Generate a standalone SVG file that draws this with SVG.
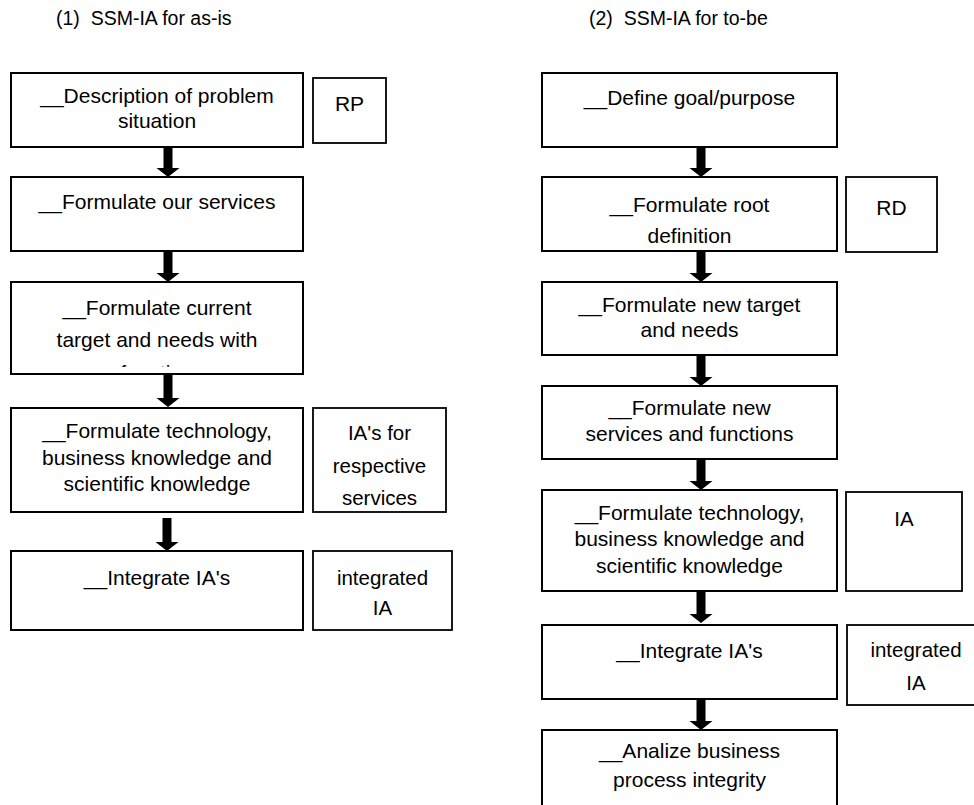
<svg xmlns="http://www.w3.org/2000/svg" width="974" height="805" viewBox="0 0 974 805">
<style>
.box{fill:#fff;stroke:#000;stroke-width:2}
.side{fill:#fff;stroke:#000;stroke-width:1.8}
text{font-family:"Liberation Sans",Arial,sans-serif;font-size:21px;fill:#000;text-anchor:middle}
.s{font-size:20.5px}
.hdr{font-size:19.5px;text-anchor:start}
.arr{fill:#000}
</style>
<defs>
<clipPath id="clip3"><rect x="11" y="282" width="292" height="85"/></clipPath>
</defs>
<rect width="974" height="805" fill="#fff"/>
<g id="headers">
<text class="hdr" x="56" y="25">(1)&#160; SSM-IA for as-is</text>
<text class="hdr" x="589" y="25">(2)&#160; SSM-IA for to-be</text>
</g>
<g id="connectors">
<polygon class="arr" points="163.5,147 172.5,147 172.5,168 179.5,168 168,177 156.5,168 163.5,168"/>
<polygon class="arr" points="163.5,251 172.5,251 172.5,273 179.5,273 168,282 156.5,273 163.5,273"/>
<polygon class="arr" points="163.5,374 172.5,374 172.5,398 179.5,398 168,407 156.5,398 163.5,398"/>
<polygon class="arr" points="162.5,518 171.5,518 171.5,542 178.5,542 167,551 155.5,542 162.5,542"/>
<polygon class="arr" points="696.5,147 705.5,147 705.5,168 712.5,168 701,177 689.5,168 696.5,168"/>
<polygon class="arr" points="696.5,251 705.5,251 705.5,273 712.5,273 701,282 689.5,273 696.5,273"/>
<polygon class="arr" points="696.5,355 705.5,355 705.5,377 712.5,377 701,386 689.5,377 696.5,377"/>
<polygon class="arr" points="696.5,459 705.5,459 705.5,481 712.5,481 701,490 689.5,481 696.5,481"/>
<polygon class="arr" points="696.5,591 705.5,591 705.5,614 712.5,614 701,623 689.5,614 696.5,614"/>
<polygon class="arr" points="696.5,699 705.5,699 705.5,721 712.5,721 701,730 689.5,721 696.5,721"/>
</g>
<g id="L1"><rect class="box" x="11" y="73" width="292" height="74"/>
<text x="157" y="103">__Description of problem</text><text x="157" y="128">situation</text></g>
<g id="RP"><rect class="side" x="313" y="78" width="73" height="65"/><text x="349.5" y="111">RP</text></g>
<g id="L2"><rect class="box" x="11" y="177" width="292" height="74"/>
<text x="157" y="209">__Formulate our services</text></g>
<g id="L3"><rect class="box" x="11" y="282" width="292" height="92"/>
<g clip-path="url(#clip3)"><text x="157" y="315">__Formulate current</text><text x="157" y="347">target and needs with</text><text x="157" y="380">function</text></g></g>
<g id="L4"><rect class="box" x="11" y="408" width="292" height="104"/>
<text x="157" y="438">__Formulate technology,</text><text x="157" y="465">business knowledge and</text><text x="157" y="491">scientific knowledge</text></g>
<g id="IAs"><rect class="side" x="313" y="408" width="133" height="104"/>
<text class="s" x="379.5" y="440">IA's for</text><text class="s" x="379.5" y="473">respective</text><text class="s" x="379.5" y="505">services</text></g>
<g id="L5"><rect class="box" x="11" y="551" width="292" height="79"/>
<text x="157" y="585">__Integrate IA's</text></g>
<g id="LIA"><rect class="side" x="313" y="551" width="139" height="79"/>
<text class="s" x="382.5" y="585">integrated</text><text class="s" x="382.5" y="615">IA</text></g>
<g id="R1"><rect class="box" x="542" y="73" width="295" height="74"/>
<text x="689.5" y="105">__Define goal/purpose</text></g>
<g id="R2"><rect class="box" x="542" y="177" width="295" height="74"/>
<text x="689.5" y="212">__Formulate root</text><text x="689.5" y="243">definition</text></g>
<g id="RD"><rect class="side" x="846" y="177" width="91" height="75"/><text x="891.5" y="215">RD</text></g>
<g id="R3"><rect class="box" x="542" y="282" width="295" height="73"/>
<text x="689.5" y="312">__Formulate new target</text><text x="689.5" y="337">and needs</text></g>
<g id="R4"><rect class="box" x="542" y="386" width="295" height="73"/>
<text x="689.5" y="415">__Formulate new</text><text x="689.5" y="441">services and functions</text></g>
<g id="R5"><rect class="box" x="542" y="490" width="295" height="101"/>
<text x="689.5" y="520">__Formulate technology,</text><text x="689.5" y="546">business knowledge and</text><text x="689.5" y="573">scientific knowledge</text></g>
<g id="RIA"><rect class="side" x="846" y="492" width="116" height="99"/><text class="s" x="904" y="526">IA</text></g>
<g id="R6"><rect class="box" x="542" y="625" width="295" height="74"/>
<text x="689.5" y="658">__Integrate IA's</text></g>
<g id="RIIA"><rect class="side" x="847" y="625" width="139" height="80"/>
<text class="s" x="916" y="657">integrated</text><text class="s" x="916" y="690">IA</text></g>
<g id="R7"><rect class="box" x="542" y="730" width="295" height="100"/>
<text x="689.5" y="758">__Analize business</text><text x="689.5" y="787">process integrity</text></g>
</svg>
